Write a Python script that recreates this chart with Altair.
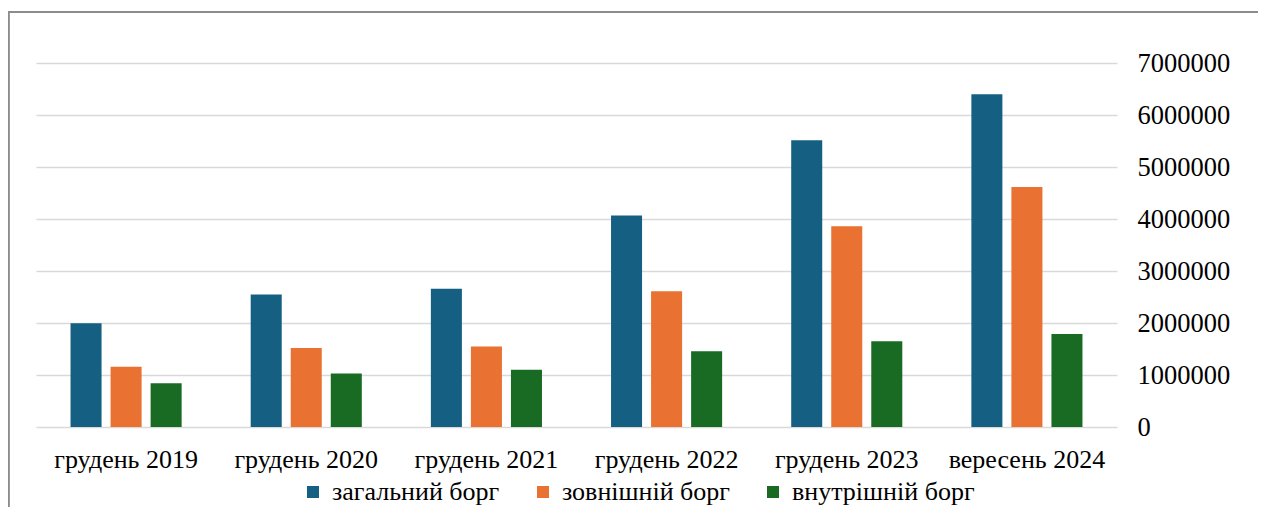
import altair as alt
import pandas as pd

categories = ["грудень 2019", "грудень 2020", "грудень 2021",
              "грудень 2022", "грудень 2023", "вересень 2024"]
series = ["загальний борг", "зовнішній борг", "внутрішній борг"]
total_debt = [1994000, 2550000, 2660000, 4065000, 5513000, 6400000]
external_debt = [1160000, 1520000, 1550000, 2610000, 3860000, 4615000]
internal_debt = [840000, 1030000, 1100000, 1455000, 1648000, 1790000]
colors = ["#156082", "#E97132", "#196B24"]
y_ticks = [0, 1000000, 2000000, 3000000, 4000000, 5000000, 6000000, 7000000]

rows = []
for s, vals in zip(series, [total_debt, external_debt, internal_debt]):
    for c, v in zip(categories, vals):
        rows.append({"cat": c, "series": s, "value": v})
df = pd.DataFrame(rows)

FONT = "Liberation Serif"

bars = alt.Chart(df).mark_bar().encode(
    x=alt.X("cat:N", sort=categories,
            scale=alt.Scale(paddingInner=1/3, paddingOuter=1/6),
            axis=alt.Axis(title=None, labelAngle=0, ticks=False, domain=False,
                          labelPadding=19, labelFontSize=26, labelFont=FONT,
                          labelColor="#000000", grid=False, labelLimit=0)),
    xOffset=alt.XOffset("series:N", sort=series,
                        scale=alt.Scale(paddingInner=0.225, paddingOuter=0.1125)),
    y=alt.Y("value:Q",
            scale=alt.Scale(domain=[0, 7000000], nice=False),
            axis=alt.Axis(title=None, orient="right", values=y_ticks, format="d",
                          ticks=False, domain=False, labelPadding=20,
                          labelFontSize=26.5, labelFont=FONT, labelColor="#000000",
                          grid=True, gridColor="#d9d9d9", gridWidth=1.6)),
    color=alt.Color("series:N", sort=series,
                    scale=alt.Scale(domain=series, range=colors),
                    legend=alt.Legend(title=None, orient="none", legendX=264,
                                      legendY=416, direction="horizontal",
                                      symbolType="square", symbolSize=144,
                                      symbolStrokeWidth=0, labelFontSize=26,
                                      labelFont=FONT, labelColor="#000000",
                                      labelLimit=0, labelOffset=6,
                                      columnPadding=30)),
)

border_left = alt.Chart(df).mark_rule(color="#8c8c8c", strokeWidth=1.2).encode(
    x=alt.value(-27.5), y=alt.value(-51), y2=alt.value(480)
)
border_top = alt.Chart(df).mark_rule(color="#8c8c8c", strokeWidth=1.2).encode(
    x=alt.value(-27.5), x2=alt.value(1222), y=alt.value(-51)
)

chart = alt.layer(bars, border_left, border_top).properties(
    width=1081, height=364,
    autosize=alt.AutoSizeParams(type="none"),
    padding={"left": 28, "top": 55, "right": 141, "bottom": 80},
    background="white",
).configure(font=FONT).configure_view(stroke=None)

chart.save("out.html", embed_options={"renderer": "svg", "actions": False})
